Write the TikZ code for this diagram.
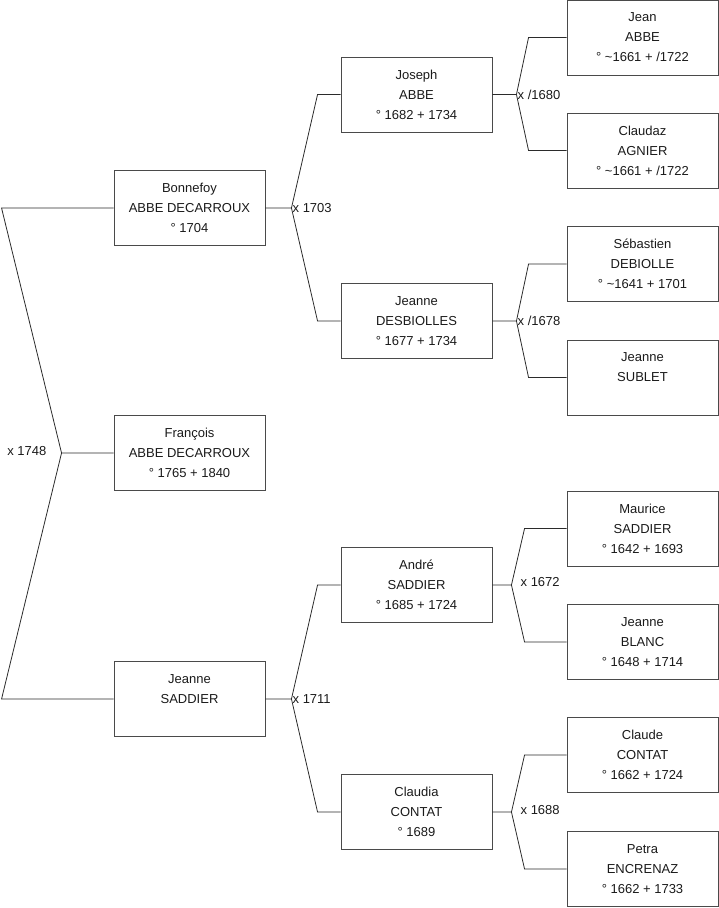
\documentclass[tikz,border=0pt]{standalone}
\usepackage{fontspec}
\setmainfont{Liberation Sans}
\usepackage{tikz}
\usetikzlibrary{calc,positioning}
\definecolor{trait}{HTML}{2B2B2B}
\definecolor{cadre}{HTML}{4A4A4A}
\definecolor{encre}{HTML}{1A1A1A}

\begin{document}
\begin{tikzpicture}[x=1pt,y=-1pt,line cap=butt,
    personne/.style={draw=cadre,line width=0.9pt,rectangle,minimum width=151pt,
      minimum height=75pt,inner sep=0pt,align=center,text=encre,
      font=\fontsize{13}{20}\selectfont},
    lien/.style={draw=trait,line width=0.8pt},
    mariage/.style={text=encre,inner sep=1pt,font=\fontsize{13}{15}\selectfont}]
        \useasboundingbox (0,0) rectangle (719,908);
        % premiere et deuxieme generation
        \node[personne] (francois)  at (189.5,453) {François\\ABBE DECARROUX\\° 1765 + 1840};
        \node[personne] (bonnefoy)  at (189.5,208) {Bonnefoy\\ABBE DECARROUX\\° 1704};
        \node[personne] (jeanneS)   at (189.5,699) {Jeanne\\SADDIER\\\mbox{}};
        % grands-parents
        \node[personne] (joseph)    at (416.5,94.5)  {Joseph\\ABBE\\° 1682 + 1734};
        \node[personne] (jeanneD)   at (416.5,321)   {Jeanne\\DESBIOLLES\\° 1677 + 1734};
        \node[personne] (andre)     at (416.5,585)   {André\\SADDIER\\° 1685 + 1724};
        \node[personne] (claudia)   at (416.5,812)   {Claudia\\CONTAT\\° 1689};
        % arriere-grands-parents
        \node[personne] (jean)      at (642.5,37.5)  {Jean\\ABBE\\° \textasciitilde 1661 + /1722};
        \node[personne] (claudaz)   at (642.5,150.5) {Claudaz\\AGNIER\\° \textasciitilde 1661 + /1722};
        \node[personne] (sebastien) at (642.5,264)   {Sébastien\\DEBIOLLE\\° \textasciitilde 1641 + 1701};
        \node[personne] (jeanneSu)  at (642.5,377.5) {Jeanne\\SUBLET\\\mbox{}};
        \node[personne] (maurice)   at (642.5,528.5) {Maurice\\SADDIER\\° 1642 + 1693};
        \node[personne] (jeanneB)   at (642.5,642)   {Jeanne\\BLANC\\° 1648 + 1714};
        \node[personne] (claude)    at (642.5,755)   {Claude\\CONTAT\\° 1662 + 1724};
        \node[personne] (petra)     at (642.5,869)   {Petra\\ENCRENAZ\\° 1662 + 1733};

        % parents de Francois
        \draw[lien] (francois.west) -- ++(-52,0) coordinate (m1)
              -- ($(bonnefoy.west)+(-112,0)$) -- (bonnefoy.west);
        \draw[lien] (m1) -- ($(jeanneS.west)+(-112,0)$) -- (jeanneS.west);
        \node[mariage,left] at ($(m1)+(-14,-2)$) {x 1748};

        % parents de Bonnefoy et de Jeanne
        \draw[lien] (bonnefoy.east) -- ++(26,0) coordinate (m2)
              -- ($(joseph.west)+(-23,0)$) -- (joseph.west);
        \draw[lien] (m2) -- ($(jeanneD.west)+(-23,0)$) -- (jeanneD.west);
        \node[mariage,right] at (m2) {x 1703};

        \draw[lien] (jeanneS.east) -- ++(26,0) coordinate (m3)
              -- ($(andre.west)+(-23,0)$) -- (andre.west);
        \draw[lien] (m3) -- ($(claudia.west)+(-23,0)$) -- (claudia.west);
        \node[mariage,right] at (m3) {x 1711};

        % parents des grands-parents
        \draw[lien] (joseph.east) -- ++(24,0) coordinate (m4)
              -- ($(jean.west)+(-38,0)$) -- (jean.west);
        \draw[lien] (m4) -- ($(claudaz.west)+(-38,0)$) -- (claudaz.west);
        \node[mariage,right] at (m4) {x /1680};

        \draw[lien] (jeanneD.east) -- ++(24,0) coordinate (m5)
              -- ($(sebastien.west)+(-38,0)$) -- (sebastien.west);
        \draw[lien] (m5) -- ($(jeanneSu.west)+(-38,0)$) -- (jeanneSu.west);
        \node[mariage,right] at (m5) {x /1678};

        \draw[lien] (andre.east) -- ++(19,0) coordinate (m6)
              -- ($(maurice.west)+(-42,0)$) -- (maurice.west);
        \draw[lien] (m6) -- ($(jeanneB.west)+(-42,0)$) -- (jeanneB.west);
        \node[mariage,right] at ($(m6)+(8,-3)$) {x 1672};

        \draw[lien] (claudia.east) -- ++(19,0) coordinate (m7)
              -- ($(claude.west)+(-42,0)$) -- (claude.west);
        \draw[lien] (m7) -- ($(petra.west)+(-42,0)$) -- (petra.west);
        \node[mariage,right] at ($(m7)+(8,-2)$) {x 1688};
\end{tikzpicture}
\end{document}
